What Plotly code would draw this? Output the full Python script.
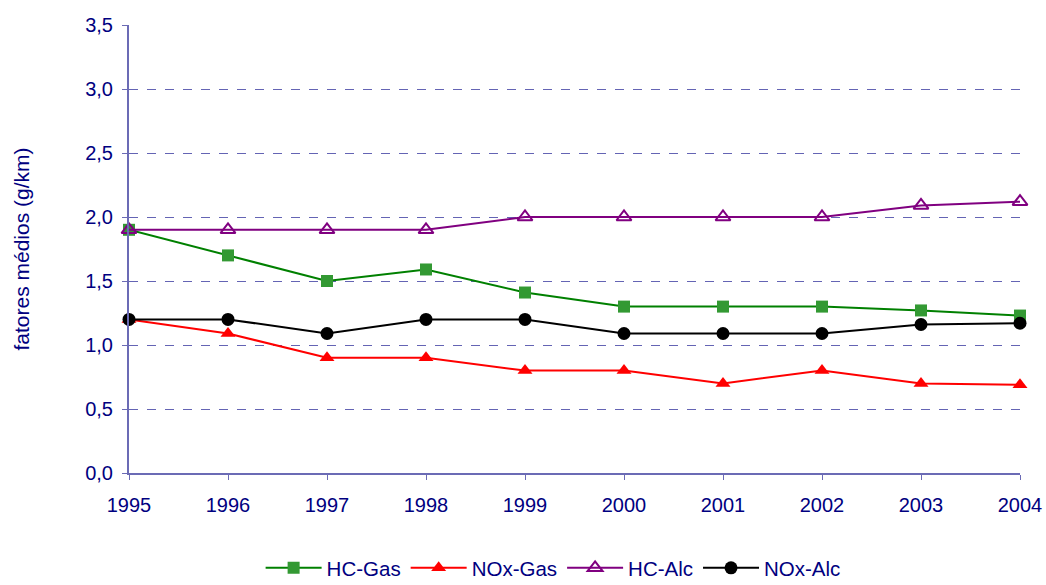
import plotly.graph_objects as go

years = [1995, 1996, 1997, 1998, 1999, 2000, 2001, 2002, 2003, 2004]
hc_gas = [1.9, 1.7, 1.5, 1.59, 1.41, 1.3, 1.3, 1.3, 1.27, 1.23]
nox_gas = [1.2, 1.09, 0.9, 0.9, 0.8, 0.8, 0.7, 0.8, 0.7, 0.69]
hc_alc = [1.9, 1.9, 1.9, 1.9, 2.0, 2.0, 2.0, 2.0, 2.09, 2.12]
nox_alc = [1.2, 1.2, 1.09, 1.2, 1.2, 1.09, 1.09, 1.09, 1.16, 1.17]
y_ticks = [0.0, 0.5, 1.0, 1.5, 2.0, 2.5, 3.0, 3.5]

navy = "#000080"
axis_col = "#6b6bb5"
grid_col = "#6464b4"
font = "Liberation Sans, Arial, sans-serif"

fig = go.Figure()
fig.add_trace(go.Scatter(x=years, y=hc_gas, name="HC-Gas", mode="lines+markers",
                         line=dict(color="#008000", width=2),
                         marker=dict(symbol="square", size=12, color="#339933"),
                         cliponaxis=False))
fig.add_trace(go.Scatter(x=years, y=nox_gas, name="NOx-Gas", mode="lines+markers",
                         line=dict(color="#ff0000", width=2),
                         marker=dict(symbol="triangle-up", size=13, color="#ff0000"),
                         cliponaxis=False))
fig.add_trace(go.Scatter(x=years, y=hc_alc, name="HC-Alc", mode="lines+markers",
                         line=dict(color="#800080", width=2),
                         marker=dict(symbol="triangle-up-open", size=13, color="#800080",
                                     line=dict(width=2, color="#800080")),
                         cliponaxis=False))
fig.add_trace(go.Scatter(x=years, y=nox_alc, name="NOx-Alc", mode="lines+markers",
                         line=dict(color="#000000", width=2),
                         marker=dict(symbol="circle", size=13, color="#000000"),
                         cliponaxis=False))

fig.update_layout(
    width=1046, height=585,
    paper_bgcolor="white", plot_bgcolor="white",
    margin=dict(l=129, r=26, t=25, b=112, autoexpand=False),
    separators=", ",
    font=dict(family=font, color=navy, size=19),
    showlegend=True,
    legend=dict(orientation="h", x=0.476, xanchor="center", y=-0.212, yanchor="middle",
                font=dict(size=20.5, color=navy), tracegroupgap=0, itemwidth=56),
    xaxis=dict(range=[1995, 2004], tickvals=years, ticktext=[str(y) for y in years],
               showgrid=False, zeroline=False, showline=True, linecolor=axis_col, linewidth=2,
               ticks="outside", ticklen=5, tickcolor=axis_col, ticklabelstandoff=8,
               tickfont=dict(size=20, color=navy), automargin=False),
    yaxis=dict(range=[0, 3.5], tickvals=y_ticks, tickformat=".1f",
               showgrid=True, gridcolor=grid_col, griddash="dash", gridwidth=1,
               zeroline=False, showline=True, linecolor=axis_col, linewidth=2,
               ticks="outside", ticklen=5, tickcolor=axis_col, ticklabelstandoff=5,
               tickfont=dict(size=20, color=navy), automargin=False,
               title=dict(text="fatores médios (g/km)", font=dict(size=21, color=navy), standoff=50)),
)

fig.write_html("out.html", config={"displayModeBar": False},
               post_script="document.body.style.margin='0';")
